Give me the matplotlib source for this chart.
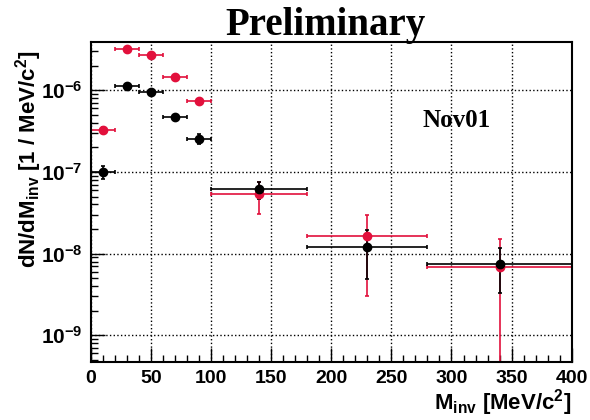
import numpy as np
import matplotlib
matplotlib.use('Agg')
import matplotlib.pyplot as plt
from matplotlib.ticker import MultipleLocator, LogLocator, FuncFormatter, NullFormatter

plt.rcParams['font.family'] = 'Liberation Sans'
plt.rcParams['font.weight'] = 'bold'
plt.rcParams['axes.labelweight'] = 'bold'
plt.rcParams['mathtext.fontset'] = 'custom'
plt.rcParams['mathtext.rm'] = 'Liberation Sans:bold'
plt.rcParams['mathtext.bf'] = 'Liberation Sans:bold'
plt.rcParams['mathtext.it'] = 'Liberation Sans:bold'

# bin centres and half widths [MeV/c^2]
mass = [10, 30, 50, 70, 90, 140, 230, 340]
half_width = [10, 10, 10, 10, 10, 40, 50, 60]

# red series
red_val = [3.3e-7, 3.2e-6, 2.68e-6, 1.46e-6, 7.3e-7, 5.3e-8, 1.63e-8, 6.95e-9]
red_hi = [3.6e-7, 3.3e-6, 2.76e-6, 1.5e-6, 7.6e-7, 7.55e-8, 2.95e-8, 1.5e-8]
red_lo = [3.0e-7, 3.1e-6, 2.6e-6, 1.42e-6, 7.0e-7, 3.03e-8, 3.03e-9, 1e-12]

# black series
blk_val = [9.9e-8, 1.14e-6, 9.5e-7, 4.71e-7, 2.54e-7, 6.1e-8, 1.22e-8, 7.4e-9]
blk_hi = [1.17e-7, 1.18e-6, 9.8e-7, 4.85e-7, 2.9e-7, 7.6e-8, 1.93e-8, 1.16e-8]
blk_lo = [8.2e-8, 1.1e-6, 9.2e-7, 4.57e-7, 2.18e-7, 4.72e-8, 4.9e-9, 3.27e-9]

y_decades = [1e-9, 1e-8, 1e-7, 1e-6]

fig = plt.figure(figsize=(5.9, 4.2), dpi=100)
ax = fig.add_axes([0.154, 0.138, 0.815, 0.762])


def draw(val, hi, lo, color):
    val = np.array(val)
    yerr = [val - np.array(lo), np.array(hi) - val]
    ax.errorbar(mass, val, xerr=half_width, yerr=yerr, fmt='o', color=color,
                markersize=6, elinewidth=1.2, capsize=1.5, capthick=1.2)


draw(red_val, red_hi, red_lo, '#e2103c')
draw(blk_val, blk_hi, blk_lo, 'black')

ax.set_yscale('log')
ax.set_xlim(0, 400)
ax.set_ylim(4.7e-10, 3.9e-6)

ax.xaxis.set_major_locator(MultipleLocator(50))
ax.xaxis.set_minor_locator(MultipleLocator(10))
ax.set_yticks(y_decades)
ax.yaxis.set_minor_locator(LogLocator(base=10, subs=np.arange(2, 10)))
ax.yaxis.set_minor_formatter(NullFormatter())
ax.yaxis.set_major_formatter(FuncFormatter(lambda v, p: r'$10^{%d}$' % round(np.log10(v))))

ax.tick_params(which='both', direction='in', top=False, right=False)
ax.tick_params(which='major', length=10, width=1)
ax.tick_params(which='minor', length=5, width=1)
ax.tick_params(axis='x', labelsize=14, pad=6)
ax.tick_params(axis='y', labelsize=15, pad=6)
for s in ax.spines.values():
    s.set_linewidth(1.5)

ax.grid(True, which='major', linestyle=':', color='black', linewidth=1)

ax.set_xlabel(r'M$_{\rm inv}$ [MeV/c$^{2}$]', fontsize=16, loc='right')
ax.set_ylabel(r'dN/dM$_{\rm inv}$ [1 / MeV/c$^{2}$]', fontsize=16, loc='top')
ax.xaxis.set_label_coords(1.0, -0.078)
ax.yaxis.set_label_coords(-0.098, 0.975)

fig.text(0.551, 0.917, 'Preliminary', fontsize=28, fontweight='bold',
         family='Liberation Serif', ha='center', va='baseline')
ax.text(0.69, 0.734, 'Nov01', fontsize=18, fontweight='bold',
        family='Liberation Serif', ha='left', va='baseline', transform=ax.transAxes)

fig.savefig('out.png', dpi=100)
